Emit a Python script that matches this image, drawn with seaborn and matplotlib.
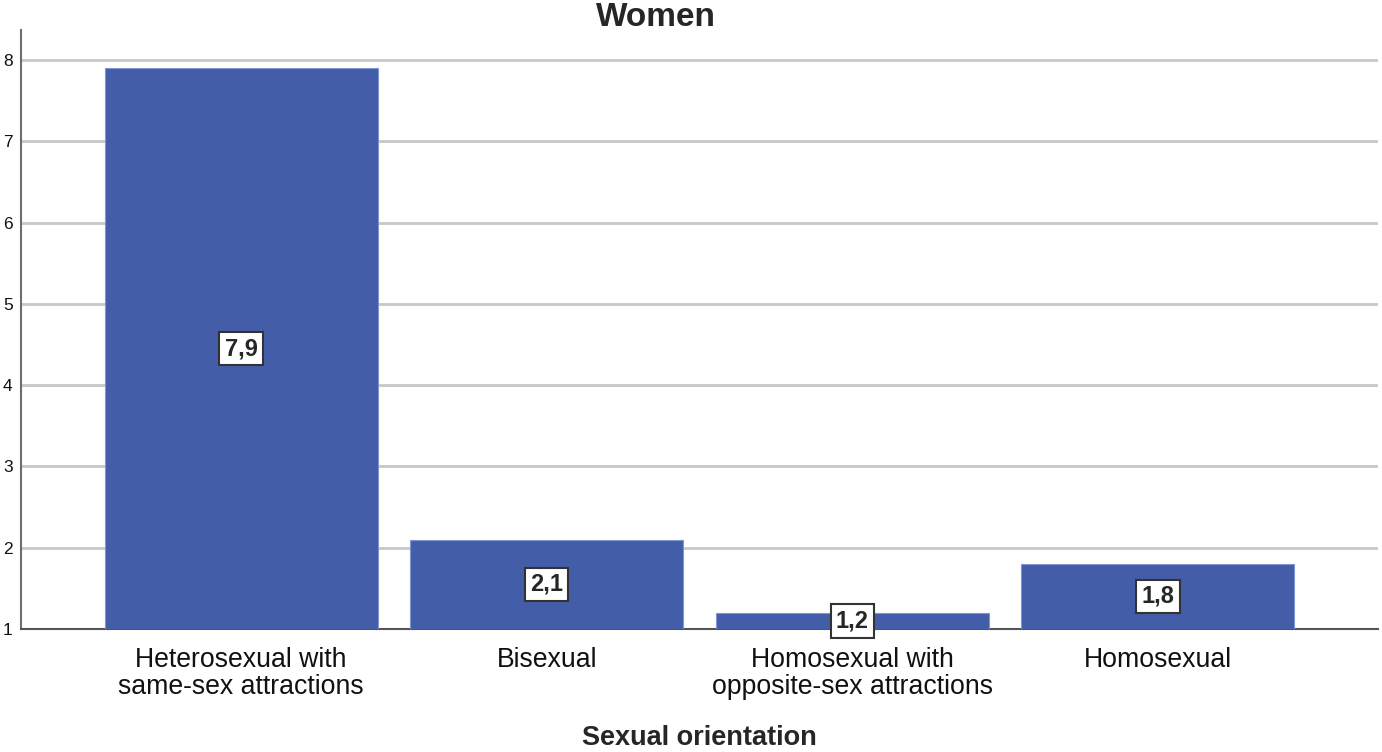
import matplotlib
matplotlib.use('Agg')
import matplotlib.pyplot as plt
import pandas as pd
import seaborn as sns

# data
categories = ['Heterosexual with\nsame-sex attractions', 'Bisexual',
              'Homosexual with\nopposite-sex attractions', 'Homosexual']
values = [7.9, 2.1, 1.2, 1.8]
value_labels = ['7,9', '2,1', '1,2', '1,8']
y_ticks = [1, 2, 3, 4, 5, 6, 7, 8]

df = pd.DataFrame({'orientation': categories, 'value': values})

sns.set_style('white')
plt.rcParams['font.family'] = ['Liberation Sans', 'DejaVu Sans']

fig = plt.figure(figsize=(13.82, 7.52), dpi=100)
ax = fig.add_axes([21 / 1382, (752 - 629) / 752, (1378 - 21) / 1382, (629 - 30) / 752])

sns.barplot(data=df, x='orientation', y='value', color='#435DA9', saturation=1,
            width=0.893, edgecolor='#7f95cf', linewidth=0.8, ax=ax, zorder=3)

ax.set_ylim(1, 8.37)
ax.set_xlim(-0.72, 3.72)
ax.set_yticks(y_ticks)
ax.yaxis.grid(True, color='#c8c8c8', linewidth=2, zorder=0)
ax.set_axisbelow(True)

for s in ['top', 'right']:
    ax.spines[s].set_visible(False)
ax.spines['left'].set_color('#6e6e6e')
ax.spines['left'].set_linewidth(1.5)
ax.spines['bottom'].set_color('#555555')
ax.spines['bottom'].set_linewidth(1.5)

ax.tick_params(axis='y', length=0, pad=6, labelsize=12.5, colors='#111111')
ax.tick_params(axis='x', length=0, pad=13, labelsize=19.2, colors='#111111')
for lbl in ax.get_xticklabels():
    lbl.set_linespacing(1.05)

# value labels in boxes at the middle of each visible bar
for i, (v, t) in enumerate(zip(values, value_labels)):
    ax.text(i, (1 + v) / 2, t, ha='center', va='center', fontsize=17,
            fontweight='bold', zorder=5,
            bbox=dict(boxstyle='square,pad=0.22', facecolor='white',
                      edgecolor='#333333', linewidth=1.5))

ax.set_title('Women', fontsize=24, fontweight='bold', pad=3, x=0.468)
ax.set_xlabel('Sexual orientation', fontsize=19.5, fontweight='bold', labelpad=18)
ax.set_ylabel('')

fig.savefig('out.png', dpi=100)
